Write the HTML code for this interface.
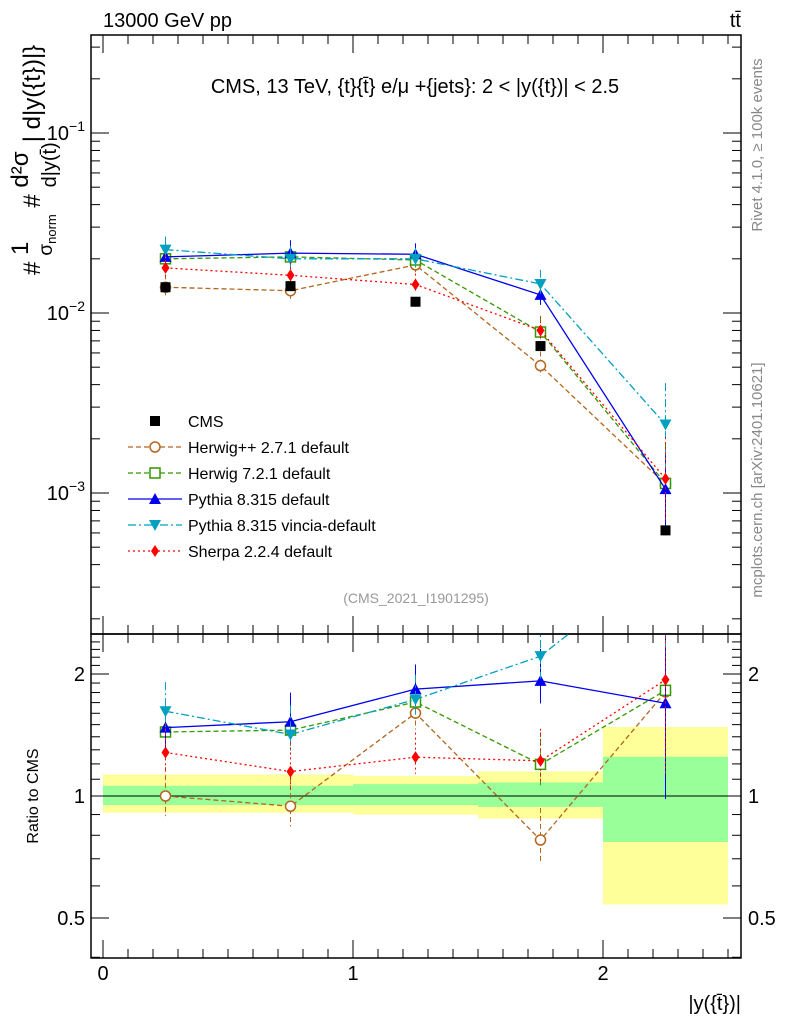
<!DOCTYPE html>
<html><head><meta charset="utf-8"><style>
body{margin:0;background:#fff}
svg{font-family:"Liberation Sans",sans-serif}
</style></head><body>
<svg id="c" width="786" height="1024" xmlns="http://www.w3.org/2000/svg"></svg>
<script>
const bins=[0,0.5,1,1.5,2,2.5];
const xc=[0.25,0.75,1.25,1.75,2.25];
const cms=[0.0139,0.0141,0.01155,0.00655,0.00062];
const herwigpp=[0.0139,0.0133,0.0185,0.0051,0.00112];
const herwig7=[0.0200,0.0205,0.0197,0.00784,0.00113];
const pythia=[0.0205,0.0215,0.0212,0.0126,0.00105];
const vincia=[0.0225,0.0200,0.0200,0.0145,0.0024];
const sherpa=[0.0178,0.0162,0.0144,0.0080,0.0012];
const relErr=[0.18,0.18,0.15,0.2,0.7];
const bandStatLo=[0.95,0.95,0.95,0.94,0.77];
const bandStatHi=[1.06,1.06,1.07,1.08,1.25];
const bandTotLo=[0.91,0.91,0.90,0.88,0.54];
const bandTotHi=[1.13,1.13,1.12,1.15,1.48];
const NS="http://www.w3.org/2000/svg";
const svg=document.getElementById('c');
function el(t,a,p){const e=document.createElementNS(NS,t);for(const k in a)e.setAttribute(k,a[k]);(p||svg).appendChild(e);return e;}
const X=v=>103+250*v;
const Y=v=>133-180*(Math.log10(v)+1);
const R=v=>796-122*Math.log2(v);
const L=91,Rt=741,T=35,M=634,B=958;
for(let i=0;i<5;i++){
 let r=el('rect',{x:X(bins[i]),y:R(bandTotHi[i]),width:X(bins[i+1])-X(bins[i]),height:R(bandTotLo[i])-R(bandTotHi[i]),fill:'#ffff99'});
 
 r=el('rect',{x:X(bins[i]),y:R(bandStatHi[i]),width:X(bins[i+1])-X(bins[i]),height:R(bandStatLo[i])-R(bandStatHi[i]),fill:'#99ff99'});
 
}
el('line',{x1:L,x2:Rt,y1:R(1),y2:R(1),stroke:'#000'});
el('rect',{x:L,y:T,width:Rt-L,height:M-T,fill:'none',stroke:'#000','stroke-width':1.5});
el('rect',{x:L,y:M,width:Rt-L,height:B-M,fill:'none',stroke:'#000','stroke-width':1.5});
for(let d=-4;d<0;d++)for(let m=1;m<10;m++){const v=m*Math.pow(10,d);const y=Y(v);if(y<T||y>M)continue;const len=m==1?18:9;
 el('line',{x1:L,x2:L+len,y1:y,y2:y,stroke:'#000'});el('line',{x1:Rt,x2:Rt-len,y1:y,y2:y,stroke:'#000'});}
[[-1],[-2],[-3]].forEach(([p])=>{const t=el('text',{x:85,y:Y(Math.pow(10,p))+7,'text-anchor':'end','font-size':20});t.innerHTML='10<tspan dy="-9" font-size="14">−'+(-p)+'</tspan>';});
for(let v=0.4;v<=2.5;v+=0.1){const y=R(v);if(y<M||y>B)continue;const maj=[0.5,1,2].some(q=>Math.abs(q-v)<1e-6);const len=maj?18:9;
 el('line',{x1:L,x2:L+len,y1:y,y2:y,stroke:'#000'});el('line',{x1:Rt,x2:Rt-len,y1:y,y2:y,stroke:'#000'});}
[[2,'2'],[1,'1'],[0.5,'0.5']].forEach(([v,s])=>{let t=el('text',{x:85,y:R(v)+7,'text-anchor':'end','font-size':20});t.textContent=s;
 t=el('text',{x:748,y:R(v)+7,'font-size':20});t.textContent=s;});
for(let v=0;v<=2.55;v+=0.1){const x=X(v);const maj=Math.abs(v-Math.round(v))<1e-6;const len=maj?18:9;
 [[T,1],[M,-1],[M,1],[B,-1]].forEach(([y0,s])=>el('line',{x1:x,x2:x,y1:y0,y2:y0+s*len,stroke:'#000'}));}
[0,1,2].forEach(v=>{const t=el('text',{x:X(v),y:980,'text-anchor':'middle','font-size':20});t.textContent=v;});
const series=[
 {n:'herwigpp',d:herwigpp,c:'#b5651d',dash:'5,3',m:'circle',fill:'none'},
 {n:'herwig7',d:herwig7,c:'#339900',dash:'5,3',m:'square',fill:'none'},
 {n:'pythia',d:pythia,c:'#0000ee',dash:'',m:'tri',fill:'#0000ee'},
 {n:'vincia',d:vincia,c:'#00a0c0',dash:'8,3,2,3',m:'itri',fill:'#00a0c0'},
 {n:'sherpa',d:sherpa,c:'#ff0000',dash:'2,3',m:'diamond',fill:'#ff0000'}];
function marker(g,m,x,y,c,f){
 if(m=='circle')return el('circle',{cx:x,cy:y,r:5,fill:'#fff',stroke:c,'stroke-width':1.5},g);
 if(m=='square')return el('rect',{x:x-5,y:y-5,width:10,height:10,fill:'#fff',stroke:c,'stroke-width':1.5},g);
 if(m=='tri')return el('polygon',{points:`${x},${y-6} ${x-6},${y+5} ${x+6},${y+5}`,fill:f},g);
 if(m=='itri')return el('polygon',{points:`${x},${y+6} ${x-6},${y-5} ${x+6},${y-5}`,fill:f},g);
 if(m=='diamond')return el('polygon',{points:`${x},${y-6} ${x-4},${y} ${x},${y+6} ${x+4},${y}`,fill:f},g);
 return el('rect',{x:x-5,y:y-5,width:10,height:10,fill:c},g);
}
const clip=el('clipPath',{id:'cm'});el('rect',{x:L,y:T,width:Rt-L,height:M-T},clip);
const clip2=el('clipPath',{id:'cr'});el('rect',{x:L,y:M,width:Rt-L,height:B-M},clip2);
series.forEach(s=>{
 const g=el('g',{'clip-path':'url(#cm)'});
 const g2=el('g',{'clip-path':'url(#cr)'});
 el('polyline',{points:xc.map((x,i)=>X(x)+','+Y(s.d[i])).join(' '),fill:'none',stroke:s.c,'stroke-width':1.3,'stroke-dasharray':s.dash},g);
 el('polyline',{points:xc.map((x,i)=>X(x)+','+R(s.d[i]/cms[i])).join(' '),fill:'none',stroke:s.c,'stroke-width':1.3,'stroke-dasharray':s.dash},g2);
 xc.forEach((x,i)=>{const v=s.d[i],e=relErr[i];
  el('line',{x1:X(x),x2:X(x),y1:Y(v*(1+e)),y2:Y(v*(1-e*0.6)),stroke:s.c,'stroke-dasharray':s.dash},g);
  const r=v/cms[i];
  el('line',{x1:X(x),x2:X(x),y1:R(r*(1+e)),y2:R(r*(1-e*0.6)),stroke:s.c,'stroke-dasharray':s.dash},g2);
  let mk=marker(g,s.m,X(x),Y(v),s.c,s.fill);
  mk=marker(g2,s.m,X(x),R(r),s.c,s.fill);
 });
});
const gc=el('g',{});
xc.forEach((x,i)=>{el('line',{x1:X(x),x2:X(x),y1:Y(cms[i]*1.06),y2:Y(cms[i]*0.94),stroke:'#000'},gc);
 const m=el('rect',{x:X(x)-5,y:Y(cms[i])-5,width:10,height:10,fill:'#000'},gc);});
const names=['CMS','Herwig++ 2.7.1 default','Herwig 7.2.1 default','Pythia 8.315 default','Pythia 8.315 vincia-default','Sherpa 2.2.4 default'];
names.forEach((n,i)=>{const y=421+26*i;const g=el('g',{});
 if(i==0)el('rect',{x:150,y:y-5,width:10,height:10,fill:'#000'},g);
 else{const s=series[i-1];el('line',{x1:128,x2:182,y1:y,y2:y,stroke:s.c,'stroke-dasharray':s.dash,'stroke-width':1.3},g);marker(g,s.m,155,y,s.c,s.fill);}
 const t=el('text',{x:188,y:y+6,'font-size':16},g);t.textContent=n;});
function txt(x,y,s,a,name,extra){const t=el('text',Object.assign({x:x,y:y,'font-size':a},extra||{}));t.textContent=s;return t;}
txt(103,27,'13000 GeV pp',20,'title-left');
txt(741,27,'tt̄',20,'title-right',{'text-anchor':'end'});
txt(415,93,'CMS, 13 TeV, {t}{t̄} e/μ +{jets}: 2 < |y({t})| < 2.5',20,'plot-label',{'text-anchor':'middle'});
txt(416,603,'(CMS_2021_I1901295)',14,'analysis-id',{'text-anchor':'middle',fill:'#999'});
txt(741,1010,'|y({t̄})|',20,'x-axis-title',{'text-anchor':'end'});
txt(0,0,'Ratio to CMS',16,'ratio-axis-title',{'text-anchor':'middle',transform:'translate(38,796) rotate(-90)'});
txt(0,0,'Rivet 4.1.0, ≥ 100k events',15,'rivet-label',{'text-anchor':'middle',fill:'#888',transform:'translate(762,145) rotate(-90)'});
txt(0,0,'mcplots.cern.ch [arXiv:2401.10621]',15,'mcplots-label',{'text-anchor':'middle',fill:'#888',transform:'translate(762,480) rotate(-90)'});
const yl=el('text',{'font-size':24,transform:'translate(40,275) rotate(-90)'});

yl.innerHTML='# <tspan dy="-12">1</tspan><tspan dx="-14" dy="24" font-size="19">σ<tspan font-size="13" dy="4">norm</tspan></tspan><tspan dy="-16"> # </tspan><tspan dy="-12">d²σ</tspan><tspan dx="-36" dy="28" font-size="20">d|y(t̄)</tspan><tspan dy="-16">| d|y({t})|}</tspan>';
</script>
</body></html>
